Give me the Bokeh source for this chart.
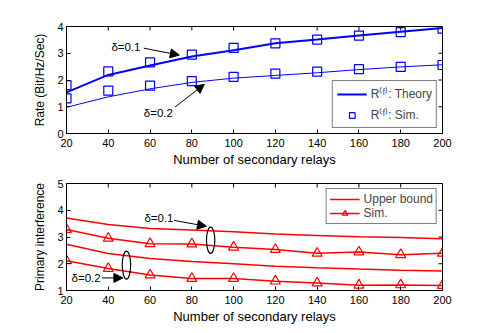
import math
from bokeh.plotting import figure
from bokeh.models import (Legend, LegendItem, Arrow, NormalHead,
                          Label, FixedTicker, Range1d)
from bokeh.layouts import column
from bokeh.embed import file_html
from bokeh.resources import INLINE

# ---------------- data ----------------
relays = [20, 40, 60, 80, 100, 120, 140, 160, 180, 200]

rate_theory_d01 = [1.54, 2.19, 2.54, 2.88, 3.11, 3.37, 3.51, 3.66, 3.80, 3.94]
rate_sim_d01 = [1.81, 2.32, 2.66, 2.95, 3.20, 3.37, 3.51, 3.66, 3.79, 3.92]
rate_theory_d02 = [0.98, 1.37, 1.67, 1.91, 2.07, 2.17, 2.27, 2.39, 2.49, 2.57]
rate_sim_d02 = [1.31, 1.60, 1.79, 1.96, 2.12, 2.24, 2.31, 2.41, 2.49, 2.56]

intf_bound_d01 = [3.71, 3.47, 3.32, 3.26, 3.20, 3.11, 3.06, 3.01, 2.98, 2.93]
intf_sim_d01 = [3.28, 2.95, 2.75, 2.74, 2.62, 2.53, 2.39, 2.44, 2.34, 2.39]
intf_bound_d02 = [2.73, 2.38, 2.20, 2.08, 2.00, 1.91, 1.85, 1.80, 1.76, 1.73]
intf_sim_d02 = [2.11, 1.82, 1.58, 1.45, 1.45, 1.35, 1.28, 1.20, 1.21, 1.19]

x_ticks = [20, 40, 60, 80, 100, 120, 140, 160, 180, 200]
rate_ticks = [0, 1, 2, 3, 4]
intf_ticks = [1, 2, 3, 4, 5]

FONT = "Liberation Sans"
TICK_FS = "11px"
XLAB_FS = "13px"
YLAB_FS = "12px"
LEG_FS = "12px"
ANN_FS = "11.5px"
BLUE = "#0000ff"
RED = "#ff0000"


def make_fig(ylabel, yr, yticks, top_b, bottom_b, frame_h):
    p = figure(width=66 + 376 + 25, height=top_b + frame_h + bottom_b,
               x_range=Range1d(20, 200), y_range=Range1d(*yr),
               output_backend="svg", toolbar_location=None,
               min_border_left=66, min_border_right=25,
               min_border_top=top_b, min_border_bottom=bottom_b,
               background_fill_color="white", border_fill_color="white")
    p.grid.visible = False
    p.outline_line_color = "black"
    p.outline_line_width = 1
    for ax in (p.xaxis[0], p.yaxis[0]):
        ax.major_tick_in = 4
        ax.major_tick_out = 0
        ax.minor_tick_in = 0
        ax.minor_tick_out = 0
        ax.major_label_text_font = FONT
        ax.major_label_text_font_size = TICK_FS
        ax.major_label_text_color = "black"
        ax.axis_label_text_font = FONT
        ax.axis_label_text_font_style = "normal"
        ax.axis_label_text_color = "black"
        ax.axis_line_color = "black"
        ax.major_tick_line_color = "black"
    p.xaxis[0].axis_label_text_font_size = XLAB_FS
    p.yaxis[0].axis_label_text_font_size = YLAB_FS
    p.xaxis[0].ticker = FixedTicker(ticks=x_ticks)
    p.yaxis[0].ticker = FixedTicker(ticks=yticks)
    p.xaxis[0].axis_label = "Number of secondary relays"
    p.yaxis[0].axis_label = ylabel
    p.xaxis[0].major_label_standoff = 5
    p.xaxis[0].axis_label_standoff = 2
    p.yaxis[0].major_label_standoff = 3
    p.yaxis[0].axis_label_standoff = 7
    # box ticks on the right and top edges (inward, like the left/bottom)
    p.scatter([x_ticks[-1]] * len(yticks), yticks, marker="dash", size=8,
              angle=0, line_color="black", line_width=1)
    p.scatter(x_ticks, [yr[1]] * len(x_ticks), marker="dash", size=8,
              angle=math.pi / 2, line_color="black", line_width=1)
    return p


def label(p, x, y, text):
    p.add_layout(Label(x=x, y=y, text=text, text_font=FONT,
                       text_font_size=ANN_FS, text_baseline="middle",
                       text_align="left", text_color="black"))


def arrow(p, x0, y0, x1, y1):
    p.add_layout(Arrow(x_start=x0, y_start=y0, x_end=x1, y_end=y1,
                       line_color="black", line_width=1,
                       end=NormalHead(size=9, fill_color="black",
                                      line_color="black")))


# ---------------- top figure ----------------
p1 = make_fig("Rate (Bit/Hz/Sec)", (0, 4), rate_ticks, 26, 30, 113)
th1 = p1.line(relays, rate_theory_d01, line_color=BLUE, line_width=2)
p1.line(relays, rate_theory_d02, line_color=BLUE, line_width=1)
sm1 = p1.scatter(relays, rate_sim_d01, marker="square", size=9,
                 fill_color=None, line_color=BLUE, line_width=1.2)
p1.scatter(relays, rate_sim_d02, marker="square", size=9,
           fill_color=None, line_color=BLUE, line_width=1.2)

label(p1, 41.5, 3.22, "δ=0.1")
arrow(p1, 57, 3.19, 74, 2.93)
label(p1, 57, 0.78, "δ=0.2")
arrow(p1, 72, 0.99, 86, 1.84)

leg1 = Legend(items=[LegendItem(label="R⁽ᶠ⁾: Theory", renderers=[th1]),
                     LegendItem(label="R⁽ᶠ⁾: Sim.", renderers=[sm1])],
              location="bottom_right", margin=5, padding=4, spacing=4,
              glyph_width=30, glyph_height=14, label_height=14,
              label_standoff=4, label_text_font=FONT,
              label_text_font_size=LEG_FS,
              border_line_color="black", border_line_width=1,
              background_fill_color="white", background_fill_alpha=1)
p1.add_layout(leg1)

# ---------------- bottom figure ----------------
p2 = make_fig("Primary interference", (1, 5), intf_ticks, 14, 29, 114)
ub = p2.line(relays, intf_bound_d01, line_color=RED, line_width=1.5)
p2.line(relays, intf_bound_d02, line_color=RED, line_width=1.5)
sl = p2.line(relays, intf_sim_d01, line_color=RED, line_width=1.5)
st = p2.scatter(relays, intf_sim_d01, marker="triangle", size=10,
                fill_color=None, line_color=RED, line_width=1.2)
p2.line(relays, intf_sim_d02, line_color=RED, line_width=1.5)
p2.scatter(relays, intf_sim_d02, marker="triangle", size=10,
           fill_color=None, line_color=RED, line_width=1.2)

p2.ellipse(x=[89, 48.7], y=[2.88, 1.95], width=[4, 4], height=[0.98, 1.05],
           fill_color=None, line_color="black", line_width=1.2)
label(p2, 57.3, 3.70, "δ=0.1")
arrow(p2, 71.5, 3.62, 87, 3.40)
label(p2, 22.4, 1.47, "δ=0.2")
arrow(p2, 37, 1.47, 47, 1.47)

leg2 = Legend(items=[LegendItem(label="Upper bound", renderers=[ub]),
                     LegendItem(label="Sim.", renderers=[sl, st])],
              location="top_right", margin=5, padding=3, spacing=0,
              glyph_width=30, glyph_height=14, label_height=14,
              label_standoff=4, label_text_font=FONT,
              label_text_font_size=LEG_FS,
              border_line_color="black", border_line_width=1,
              background_fill_color="white", background_fill_alpha=1)
p2.add_layout(leg2)

layout = column(p1, p2, spacing=0)
open("out.html", "w").write(file_html(layout, INLINE))
